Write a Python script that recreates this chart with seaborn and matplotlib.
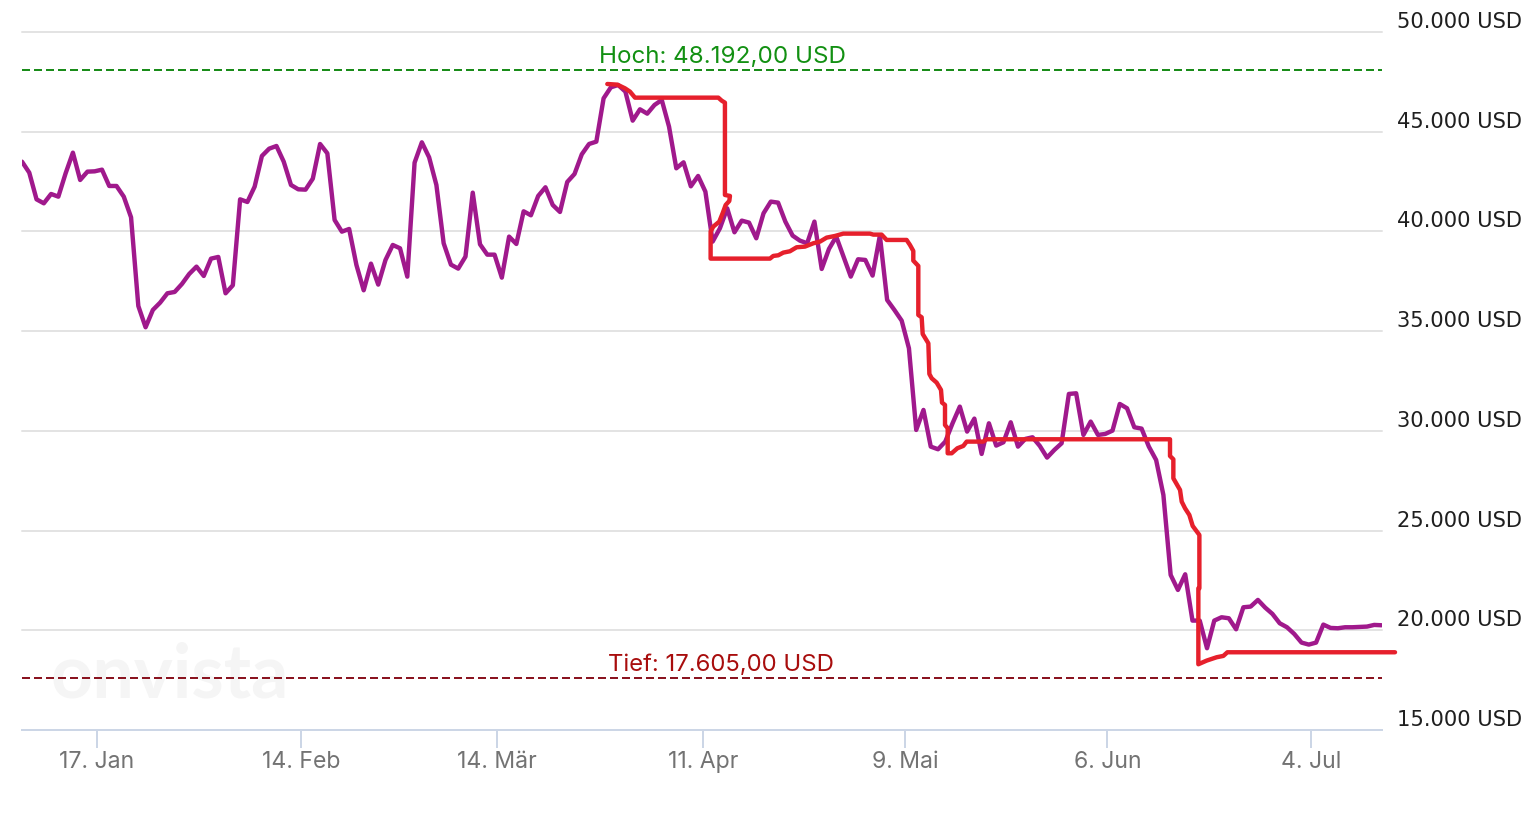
import matplotlib
matplotlib.use("Agg")
import matplotlib.pyplot as plt
import seaborn as sns

# Kurs (USD) je Handelstag
price = [43498, 42947, 41610, 41410, 41878, 41744, 42914, 43950, 42580, 42997,
         43014, 43097, 42279, 42279, 41744, 40708, 36263, 35194, 36063, 36430,
         36898, 36965, 37366, 37867, 38235, 37767, 38636, 38720, 36898, 37299,
         41610, 41477, 42245, 43783, 44150, 44284, 43498, 42329, 42112, 42095,
         42646, 44384, 43916, 40574, 39989, 40123, 38318, 37048, 38385, 37333,
         38569, 39321, 39154, 37733, 43448, 44468, 43716, 42329, 39405, 38335,
         38135, 38736, 41944, 39354, 38836, 38836, 37684, 39740, 39372, 41009,
         40809, 41778, 42213, 41327, 40976, 42480, 42881, 43867, 44385, 44502,
         46675, 47226, 47343, 47009, 45555, 46123, 45906, 46340, 46591, 45254,
         43166, 43466, 42263, 42781, 41996, 39489, 40158, 41160, 39957, 40542,
         40442, 39656, 40910, 41495, 41444, 40492, 39790, 39539, 39406, 40492,
         38119, 39122, 39740, 38737, 37735, 38604, 38570, 37785, 39790, 36565,
         36062, 35527, 34140, 30046, 31049, 29210, 29077, 29461, 30380, 31216,
         29963, 30614, 28843, 30380, 29261, 29428, 30430, 29210, 29595, 29678,
         29244, 28659, 29043, 29377, 31851, 31884, 29795, 30464, 29795, 29845,
         30012, 31349, 31132, 30180, 30113, 29210, 28540, 26786, 22775, 22023,
         22808, 20486, 20486, 19099, 20486, 20653, 20603, 20051, 21154, 21188,
         21522, 21138, 20820, 20352, 20152, 19817, 19383, 19283, 19383, 20285,
         20118, 20102, 20152, 20152, 20169, 20185, 20269, 20252]
sessions = list(range(len(price)))

# Rote Linie: Handelstag (gebrochen) und Wert
stop_session = [80.51, 81.89, 82.94, 83.63, 84.32, 95.78, 96.24, 96.69, 96.69, 97.38,
                97.29, 96.79, 96.37, 95.91, 95.09, 94.72, 94.72, 102.88, 103.34, 104.03,
                104.72, 105.63, 106.55, 107.70, 108.85, 109.76, 110.68, 111.83, 112.97, 116.64,
                117.10, 118.24, 118.93, 121.68, 122.14, 122.60, 122.60, 123.29, 123.29, 123.75,
                123.89, 124.67, 124.81, 125.13, 125.81, 126.41, 126.55, 126.96, 126.96, 127.33,
                127.33, 127.88, 128.66, 129.48, 129.94, 132.23, 132.69, 157.91, 157.91, 158.37,
                158.37, 159.29, 159.52, 159.98, 160.57, 161.03, 161.95, 161.95, 161.81, 161.81,
                162.96, 164.33, 165.25, 165.80, 188.86]
stop_value = [47393, 47360, 47176, 47009, 46708, 46708, 46558, 46457, 41829, 41779,
              41528, 41327, 40910, 40492, 40241, 39991, 38637, 38637, 38771, 38804,
              38938, 39005, 39205, 39239, 39406, 39489, 39690, 39773, 39890, 39890,
              39840, 39840, 39573, 39573, 39322, 39021, 38537, 38270, 35811, 35694,
              34858, 34390, 32853, 32636, 32419, 32051, 31416, 31299, 30297, 30130,
              28876, 28876, 29127, 29244, 29461, 29461, 29578, 29578, 28741, 28574,
              27621, 27036, 26451, 26117, 25783, 25232, 24780, 22107, 22107, 18297,
              18481, 18648, 18715, 18898, 18898]

y_ticks = [15000, 20000, 25000, 30000, 35000, 40000, 45000, 50000]
y_labels = ["15.000 USD", "20.000 USD", "25.000 USD", "30.000 USD",
            "35.000 USD", "40.000 USD", "45.000 USD", "50.000 USD"]
x_ticks = [10.3, 38.4, 65.3, 93.7, 121.5, 149.3, 177.3]
x_labels = ["17. Jan", "14. Feb", "14. Mär", "11. Apr", "9. Mai", "6. Jun", "4. Jul"]
high_level = 48095
low_level = 17610
high_label = "Hoch: 48.192,00 USD"
low_label = "Tief: 17.605,00 USD"

sns.set_theme(style="white")
FONT = "Inter"
plt.rcParams["font.family"] = [FONT, "DejaVu Sans"]

W, H = 1540, 816
fig = plt.figure(figsize=(W / 100, H / 100), dpi=100, facecolor="white")
ax = fig.add_axes([22 / W, (H - 730) / H, 1360 / W, 698 / H])
ax.set_facecolor("white")
ax.set_xlim(0, 1360 / 7.27)
ax.set_ylim(15000, 50000)

px = 0.72  # Punkt je Pixel
ax.set_yticks(y_ticks, y_labels)
ax.set_xticks(x_ticks, x_labels)
ax.yaxis.tick_right()
ax.grid(axis="y", color="#e3e3e3", linewidth=2 * px, zorder=0)
ax.grid(axis="x", visible=False)
for gl in ax.get_ygridlines():
    gl.set_clip_on(False)
ax.tick_params(axis="y", length=0, pad=15 * px, labelsize=15.1, labelcolor="#1f1f1f")
ax.tick_params(axis="x", length=18 * px, width=2 * px, color="#ccd6e6",
               pad=3 * px, labelsize=16.6, labelcolor="#737373", bottom=True)
for lab in ax.get_yticklabels():
    lab.set_va("bottom")
    lab.set_family(["DejaVu Sans"])
for name, spine in ax.spines.items():
    spine.set_visible(name == "bottom")
ax.spines["bottom"].set_color("#ccd6e6")
ax.spines["bottom"].set_linewidth(2 * px)

ax.text(3.9, 17700, "onvista", fontsize=53, fontweight="bold", color="#f5f5f5",
        family=["Lato", "DejaVu Sans"], va="center", ha="left", zorder=1)

ax.axhline(high_level, color="#1a8c1a", linewidth=2 * px, dashes=(4, 2), zorder=2)
ax.axhline(low_level, color="#8a1420", linewidth=2 * px, dashes=(4, 2), zorder=2)

sns.lineplot(x=sessions, y=price, ax=ax, color="#a0198c", linewidth=4.4 * px,
             estimator=None, sort=False, zorder=3, solid_joinstyle="round")
sns.lineplot(x=stop_session, y=stop_value, ax=ax, color="#e6202c", linewidth=4.4 * px,
             estimator=None, sort=False, zorder=4, solid_joinstyle="round",
             clip_on=False)

ax.set_xlabel("")
ax.set_ylabel("")
ax.text(96.4, 48461, high_label, color="#129012", fontsize=17.4, ha="center", va="baseline", zorder=5)
ax.text(96.2, 17960, low_label, color="#a80d0d", fontsize=17.2, ha="center", va="baseline", zorder=5)

fig.savefig("out.png", dpi=100, facecolor="white")
